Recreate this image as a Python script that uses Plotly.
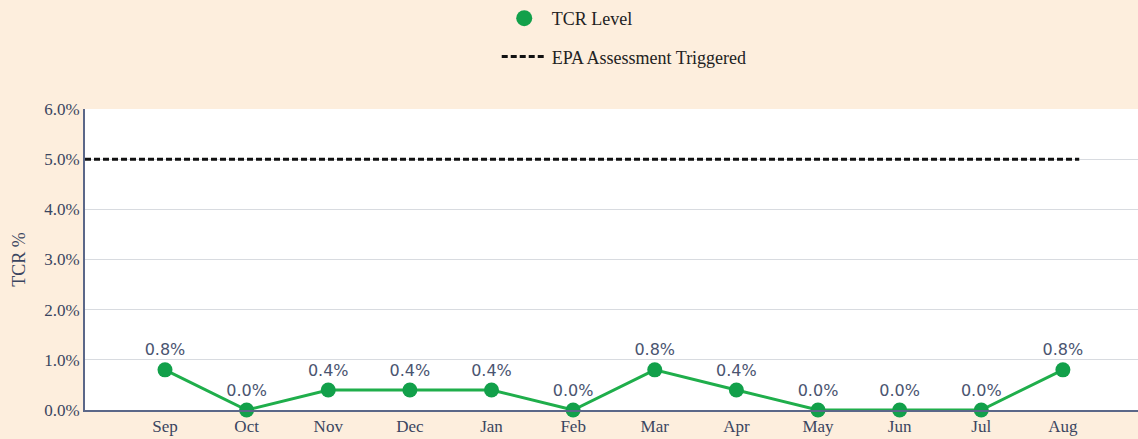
import plotly.graph_objects as go

months = ["Sep", "Oct", "Nov", "Dec", "Jan", "Feb", "Mar", "Apr", "May", "Jun", "Jul", "Aug"]
tcr = [0.8, 0.0, 0.4, 0.4, 0.4, 0.0, 0.8, 0.4, 0.0, 0.0, 0.0, 0.8]
threshold = 5.0
threshold_x = [-0.98, 11.2]
y_ticks = [0, 1, 2, 3, 4, 5, 6]
y_tick_labels = ["0.0%", "1.0%", "2.0%", "3.0%", "4.0%", "5.0%", "6.0%"]

xs = list(range(len(months)))

fig = go.Figure()
fig.add_trace(go.Scatter(
    x=xs, y=tcr, mode="lines+markers+text", name="TCR Level", showlegend=False,
    line=dict(color="#1fae4b", width=3),
    marker=dict(color="#12a04a", size=15),
    text=[f"{v:.1f}%" for v in tcr], textposition="top center",
    textfont=dict(family="DejaVu Sans", size=16, color="#4a5470"),
    cliponaxis=False,
))
fig.add_trace(go.Scatter(
    x=[None], y=[None], mode="markers", name="TCR Level", legendgroup="a",
    marker=dict(color="#12a04a", size=18),
))
fig.add_trace(go.Scatter(
    x=threshold_x, y=[threshold, threshold], mode="lines", legendgroup="b",
    name="EPA Assessment Triggered",
    line=dict(color="#111111", width=3, dash="6px,3px"),
))

fig.update_layout(
    width=1138, height=439,
    paper_bgcolor="#fdeedd", plot_bgcolor="#ffffff",
    margin=dict(l=85, r=0, t=109, b=29, autoexpand=False),
    font=dict(family="Liberation Serif", size=16, color="#3a4560"),
    legend=dict(orientation="v", x=0.391, y=1.0, yref="container", yanchor="top",
                xanchor="left", font=dict(family="Liberation Serif", size=18, color="#222222"),
                bgcolor="rgba(0,0,0,0)", itemwidth=45, tracegroupgap=12,
                traceorder="grouped"),
    showlegend=True,
)
fig.update_xaxes(
    tickmode="array", tickvals=xs, ticktext=months, range=[-0.98, 11.92],
    showgrid=False, showline=True, linecolor="#5b6788", linewidth=2,
    ticks="", zeroline=False, automargin=False,
    tickfont=dict(family="Liberation Serif", size=17, color="#3a4560"),
)
fig.update_yaxes(
    tickmode="array", tickvals=y_ticks, ticktext=y_tick_labels, range=[0, 6],
    showgrid=True, gridcolor="#d8dbe0", gridwidth=1,
    showline=True, linecolor="#5b6788", linewidth=2, zeroline=False, automargin=False,
    title=dict(text="TCR %", font=dict(family="Liberation Serif", size=18, color="#3a4560"), standoff=14),
    tickfont=dict(family="Liberation Serif", size=17, color="#3a4560"),
)

fig.write_html("out.html", config={"displayModeBar": False},
               post_script="document.body.style.margin='0';")
